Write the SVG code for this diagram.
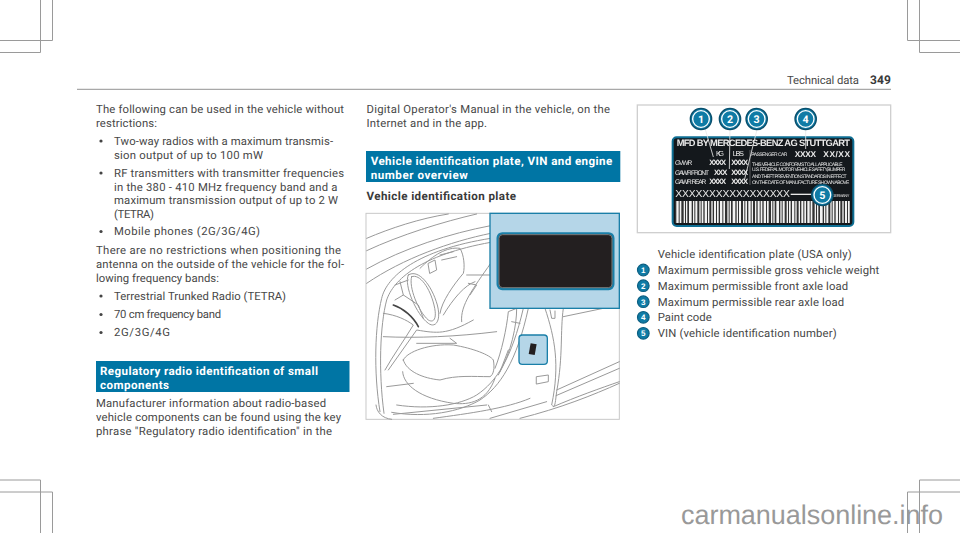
<svg xmlns="http://www.w3.org/2000/svg" width="960" height="533" viewBox="0 0 960 533">
<style>
text{font-family:"Roboto","Liberation Sans",sans-serif;text-rendering:geometricPrecision}
.b{font-size:11.3px;fill:#474747}
.h{font-size:11.6px;font-weight:700;fill:#fff}
.s{font-size:11.6px;font-weight:700;fill:#3a3a3a}
.crop{stroke:#9a9a9a;stroke-width:1;fill:none}
.ill{fill:none;stroke:#999;stroke-width:3;stroke-linecap:round;stroke-linejoin:round}
.lw{font-family:"Liberation Sans",sans-serif;fill:#e8e8e8}
.lead{stroke:#e8e8e8;stroke-width:2.5;fill:none}
.num{fill:#0f7ba5;stroke:#0b5f82;stroke-width:1.2}
.nt{font-family:"Liberation Sans",sans-serif;font-size:8px;font-weight:700;fill:#fff;text-anchor:middle}
.bnr{fill:#0075a4}
.bu{fill:#444}
</style>
<defs>
<filter id="soft" x="-5%" y="-5%" width="110%" height="110%"><feGaussianBlur stdDeviation="1.2"/></filter>
<filter id="soft2" x="-5%" y="-5%" width="110%" height="110%"><feGaussianBlur stdDeviation="0.8"/></filter>
</defs>

<g id="crop-marks" class="crop">
<path d="M40.5 0V52.5H0M52.5 0V40.5H0"/>
<path d="M907.5 0V40.5H960M919.5 0V52.5H960"/>
<path d="M40.5 533V480H0M52.5 533V492H0"/>
<path d="M907.5 533V492H960M919.5 533V480H960"/>
</g>

<g id="header">
<path d="M77 89.3H891" stroke="#a8a8a8" stroke-width="1.2"/>
<text class="b" x="787" y="84.3" textLength="72">Technical data</text>
<text class="s" x="870" y="84.3" textLength="21" style="font-size:12px">349</text>
</g>

<g id="column-left">
<text class="b" x="96" y="112.5" textLength="248">The following can be used in the vehicle without</text>
<text class="b" x="96" y="126.5" textLength="61">restrictions:</text>
<circle class="bu" cx="101" cy="141" r="1.6"/>
<text class="b" x="114" y="145" textLength="219">Two-way radios with a maximum transmis-</text>
<text class="b" x="114" y="159" textLength="149">sion output of up to 100 mW</text>
<circle class="bu" cx="101" cy="173" r="1.6"/>
<text class="b" x="114" y="176.5" textLength="230">RF transmitters with transmitter frequencies</text>
<text class="b" x="114" y="190.5" textLength="223.5">in the 380 - 410 MHz frequency band and a</text>
<text class="b" x="114" y="204" textLength="224">maximum transmission output of up to 2 W</text>
<text class="b" x="114" y="218" textLength="40">(TETRA)</text>
<circle class="bu" cx="101" cy="231.5" r="1.6"/>
<text class="b" x="114" y="235" textLength="146">Mobile phones (2G/3G/4G)</text>
<text class="b" x="96" y="253.5" textLength="245">There are no restrictions when positioning the</text>
<text class="b" x="96" y="267.5" textLength="248">antenna on the outside of the vehicle for the fol-</text>
<text class="b" x="96" y="281.5" textLength="123">lowing frequency bands:</text>
<circle class="bu" cx="101" cy="296" r="1.6"/>
<text class="b" x="114" y="299.5" textLength="172">Terrestrial Trunked Radio (TETRA)</text>
<circle class="bu" cx="101" cy="314.5" r="1.6"/>
<text class="b" x="114" y="318" textLength="107">70 cm frequency band</text>
<circle class="bu" cx="101" cy="332.5" r="1.6"/>
<text class="b" x="114" y="336" textLength="56">2G/3G/4G</text>
<rect class="bnr" x="96" y="361" width="253.5" height="31"/>
<text class="h" x="100" y="375" textLength="218">Regulatory radio identification of small</text>
<text class="h" x="100" y="389" textLength="69">components</text>
<text class="b" x="96" y="407" textLength="230">Manufacturer information about radio-based</text>
<text class="b" x="96" y="420.5" textLength="245">vehicle components can be found using the key</text>
<text class="b" x="96" y="434.5" textLength="236">phrase "Regulatory radio identification" in the</text>
</g>

<g id="column-middle">
<text class="b" x="366.5" y="112.5" textLength="243.5">Digital Operator's Manual in the vehicle, on the</text>
<text class="b" x="366.5" y="126.5" textLength="120.5">Internet and in the app.</text>
<rect class="bnr" x="366" y="151" width="254.3" height="31"/>
<text class="h" x="370.7" y="165" textLength="241.5">Vehicle identification plate, VIN and engine</text>
<text class="h" x="370.7" y="179" textLength="97">number overview</text>
<text class="s" x="366.5" y="200" textLength="149.5">Vehicle identification plate</text>
</g>

<g id="car-illustration" transform="translate(360 205) scale(.33333)">
<rect x="18" y="25" width="760" height="618" fill="#fff" stroke="#c8c8c8" stroke-width="3"/>
<g class="ill" filter="url(#soft2)">
<path d="M20 100C90 70 180 40 265 27"/>
<path d="M20 137C120 90 250 50 350 27"/>
<path d="M20 192C130 130 270 85 392 62"/>
<path d="M20 235C130 160 270 110 392 85"/>
<path d="M60 620C40 500 45 360 65 280C80 215 170 135 392 100"/>
<path d="M72 625C55 500 60 360 80 285C100 225 180 150 392 112"/>
<path d="M48 600C50 620 65 640 95 643"/>
<path d="M95 622C200 640 300 620 360 585C420 545 470 470 505 310"/>
<path d="M110 600C210 615 300 600 350 570C410 530 455 460 490 310"/>
<path d="M145 210C175 190 215 240 232 300C245 350 225 370 205 355C170 330 130 240 145 210Z"/>
<path d="M155 215C180 205 210 250 222 300C232 340 222 355 205 345C175 320 145 245 155 215Z"/>
<path d="M105 285L130 270L175 300L190 340"/>
<path d="M100 300C130 310 160 335 175 365" stroke="#444" stroke-width="5"/>
<path d="M70 325C110 330 140 345 160 360C130 410 100 450 75 495"/>
<path d="M85 495L170 375C230 385 260 390 340 345"/>
<path d="M105 240L145 225M120 230L130 270"/>
<path d="M180 190C220 150 260 125 300 130C312 150 315 185 310 205C280 240 245 290 240 325"/>
<path d="M205 175L225 165L230 195L210 205ZM240 150L280 140M245 165L290 155"/>
<path d="M250 330C280 280 315 240 345 230"/>
<path d="M320 210L392 210M325 235L350 240L330 270"/>
<path d="M305 350C300 300 340 250 392 175"/>
<path d="M70 395C170 400 290 395 410 380"/>
<path d="M130 465C140 440 210 415 280 420C340 430 390 450 400 465C405 490 400 510 390 515C340 515 290 510 240 525C190 520 140 500 130 465Z"/>
<path d="M128 500C130 540 180 580 280 595C330 600 380 590 405 520"/>
<path d="M80 545L160 535M170 415L290 415L270 400"/>
<path d="M405 490C425 440 440 370 445 320L470 310C470 360 455 440 415 510"/>
<path d="M455 350L480 355M420 500L445 435"/>
<path d="M555 310C585 400 600 480 575 600C585 610 585 600 590 560C610 450 600 380 610 310"/>
<path d="M570 315L575 340H585L585 318"/>
<path d="M610 335L778 300"/>
<path d="M590 555L778 470M588 572L778 490"/>
<path d="M580 605C650 575 720 550 778 530M480 640C600 610 700 570 778 535"/>
<path d="M220 640C330 625 440 610 510 580M390 640L560 590"/>
<path d="M385 600L395 620M100 628L380 600"/>
<path d="M530 515L565 510L565 530L530 537Z"/>
</g>
<rect x="390" y="25" width="388" height="285" fill="#b5d6e8" stroke="#1a7fa8" stroke-width="4"/>
<rect x="413" y="85" width="347" height="167" rx="14" fill="#231f20" stroke="#1a7fa8" stroke-width="7"/>
<rect x="417" y="89" width="339" height="159" rx="11" fill="none" stroke="#7a7a7a" stroke-width="3"/>
<rect x="477" y="390" width="85" height="88" rx="10" fill="#b5d6e8" stroke="#1a7fa8" stroke-width="4"/>
<path d="M512 415L530 418L524 450L506 447Z" fill="#231f20"/>
</g>

<g id="vehicle-plate" transform="translate(630 95) scale(.33333)">
<rect x="22" y="30" width="760" height="383" fill="#fff" stroke="#cfcfcf" stroke-width="4"/>
<rect x="128" y="127" width="542" height="266" rx="12" fill="#14181c" stroke="#0f6f94" stroke-width="6"/>
<g filter="url(#soft)">
<text class="lw" x="140" y="152" font-size="28" font-weight="700" textLength="520">MFD BY MERCEDES-BENZ AG STUTTGART</text>
<text class="lw" x="258" y="184" font-size="22" textLength="24">KG</text>
<text class="lw" x="308" y="184" font-size="22" textLength="34">LBS</text>
<text class="lw" x="364" y="184" font-size="15" textLength="108">PASSENGER CAR</text>
<text class="lw" x="494" y="185" font-size="25" font-weight="700" textLength="64">XXXX</text>
<text class="lw" x="580" y="185" font-size="25" font-weight="700" textLength="80">XX/XX</text>
<text class="lw" x="135" y="211" font-size="20" textLength="52">GVWR</text>
<text class="lw" x="135" y="239" font-size="20" textLength="102">GAWR FRONT</text>
<text class="lw" x="135" y="267" font-size="20" textLength="94">GAWR REAR</text>
<text class="lw" x="238" y="211" font-size="23" font-weight="700" textLength="50">XXXX</text>
<text class="lw" x="304" y="211" font-size="23" font-weight="700" textLength="50">XXXX</text>
<text class="lw" x="252" y="239" font-size="23" font-weight="700" textLength="40">XXX</text>
<text class="lw" x="304" y="239" font-size="23" font-weight="700" textLength="50">XXXX</text>
<text class="lw" x="238" y="267" font-size="23" font-weight="700" textLength="50">XXXX</text>
<text class="lw" x="304" y="267" font-size="23" font-weight="700" textLength="50">XXXX</text>
<path d="M360 165V270" stroke="#9a9a9a" stroke-width="1.5"/>
<text class="lw" x="366" y="212" font-size="15" textLength="272">THIS VEHICLE CONFORMS TO ALL APPLICABLE</text>
<text class="lw" x="366" y="229" font-size="15" textLength="280">U.S. FEDERAL MOTOR VEHICLE SAFETY,BUMPER</text>
<text class="lw" x="366" y="248" font-size="15" textLength="284">AND THEFT PREVENTION STANDARDS IN EFFECT</text>
<text class="lw" x="366" y="268" font-size="15" textLength="292">ON THE DATE OF MANUFACTURE SHOWN ABOVE</text>
<text class="lw" x="136" y="306" font-size="31" textLength="344">XXXXXXXXXXXXXXXXX</text>
<text class="lw" x="606" y="306" font-size="12" textLength="52">GERMANY</text>
<rect x="135" y="318" width="525" height="66" fill="#f2f2f2"/>
<path d="M135 351H660" stroke="#333" stroke-width="66" stroke-dasharray="4 7 3 5 7 4 3 4 5 8 4 4 3 6 6 4 3 5 4 7 3 4 6 4 4 6 3 5"/>
</g>
<g id="leaders" class="lead">
<path d="M225 100L250 186"/>
<path d="M300 100L298 222"/>
<path d="M382 100L343 256"/>
<path d="M527 100V162"/>
<path d="M548 298H482" stroke-width="4"/>
</g>
<g id="markers">
<g fill="#0f7ba5" stroke="#0b4f6c" stroke-width="4">
<circle cx="213" cy="72" r="32"/><circle cx="300" cy="72" r="32"/><circle cx="380" cy="72" r="32"/><circle cx="527" cy="72" r="32"/><circle cx="577" cy="300" r="32"/>
</g>
<g fill="#0f7ba5" stroke="#fff" stroke-width="4">
<circle cx="213" cy="72" r="25"/><circle cx="300" cy="72" r="25"/><circle cx="380" cy="72" r="25"/><circle cx="527" cy="72" r="25"/><circle cx="577" cy="300" r="25"/>
</g>
<g font-family="Liberation Sans,sans-serif" font-size="32" font-weight="700" fill="#fff" text-anchor="middle">
<text x="213" y="84">1</text><text x="300" y="84">2</text><text x="380" y="84">3</text><text x="527" y="84">4</text><text x="577" y="312">5</text>
</g>
</g>
</g>

<g id="legend">
<text class="b" x="657.7" y="258" textLength="194">Vehicle identification plate (USA only)</text>
<circle class="num" cx="643.3" cy="270" r="5.8"/><text class="nt" x="643.3" y="273">1</text>
<text class="b" x="657.7" y="274" textLength="221.5">Maximum permissible gross vehicle weight</text>
<circle class="num" cx="643.3" cy="285.7" r="5.8"/><text class="nt" x="643.3" y="288.7">2</text>
<text class="b" x="657.7" y="289.7" textLength="190.5">Maximum permissible front axle load</text>
<circle class="num" cx="643.3" cy="301.7" r="5.8"/><text class="nt" x="643.3" y="304.7">3</text>
<text class="b" x="657.7" y="305.5" textLength="186.5">Maximum permissible rear axle load</text>
<circle class="num" cx="643.3" cy="317.3" r="5.8"/><text class="nt" x="643.3" y="320.3">4</text>
<text class="b" x="657.7" y="321.3" textLength="54">Paint code</text>
<circle class="num" cx="643.3" cy="333.3" r="5.8"/><text class="nt" x="643.3" y="336.3">5</text>
<text class="b" x="657.7" y="337" textLength="179">VIN (vehicle identification number)</text>
</g>

<g id="watermark">
<text x="681" y="524" font-size="27" fill="#999" textLength="262" style="font-family:'Liberation Sans',sans-serif">carmanualsonline.info</text>
</g>
</svg>
